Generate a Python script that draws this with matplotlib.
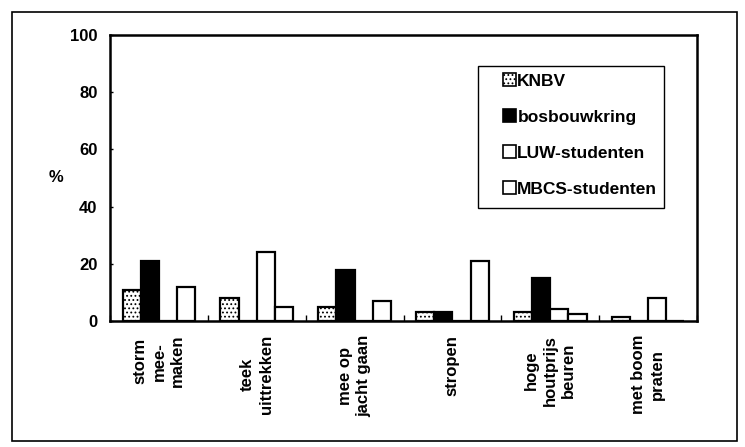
import matplotlib.pyplot as plt
from matplotlib.patches import Rectangle
import numpy as np

plt.rcParams['font.family'] = ['Liberation Sans', 'DejaVu Sans']
plt.rcParams['hatch.color'] = '#888888'
plt.rcParams['hatch.linewidth'] = 0.8

# ================== DATA ==================

categories = ["storm\nmee-\nmaken", "teek\nuittrekken", "mee op\njacht gaan",
              "stropen", "hoge\nhoutprijs\nbeuren", "met boom\npraten"]
series_names = ["KNBV", "bosbouwkring", "LUW-studenten", "MBCS-studenten"]
knbv = [11, 8, 5, 3.3, 3.3, 1.5]
bosbouwkring = [21, 0, 18, 3.3, 15, 0]
luw = [0, 24, 0, 0, 4.3, 8]
mbcs = [12, 5, 7, 21, 2.5, 0]
y_ticks = [0, 20, 40, 60, 80, 100]

# ================== PLOT ==================

fig = plt.figure(figsize=(7.45, 4.47), dpi=100)
ax = fig.add_axes([110 / 745, 1 - 321 / 447, 587 / 745, 286 / 447])

x = np.arange(len(categories))
w = 0.186
styles = [
    dict(facecolor="white", hatch="...."),
    dict(facecolor="black"),
    dict(facecolor="white"),
    dict(facecolor="white"),
]
data = [knbv, bosbouwkring, luw, mbcs]

for i, (vals, st, name) in enumerate(zip(data, styles, series_names)):
    ax.bar(x + (i - 1.5) * w, vals, width=w, edgecolor="black",
           linewidth=1.6, label=name, **st)

ax.set_xlim(-0.5, len(categories) - 0.5)
ax.set_ylim(0, 100)
ax.set_yticks(y_ticks)
ax.set_yticklabels([str(t) for t in y_ticks], fontsize=12, fontweight="bold")
ax.tick_params(axis="y", direction="in", length=2, width=1, pad=9)

ax.set_xticks(x)
ax.set_xticklabels(categories, rotation=90, fontsize=12, fontweight="bold",
                   va="top", ha="center", multialignment="center",
                   linespacing=1.3)
ax.tick_params(axis="x", length=0, pad=10)
ax.set_xticks(np.arange(len(categories) + 1) - 0.5, minor=True)
ax.tick_params(axis="x", which="minor", direction="in", length=4, width=1)

ax.set_ylabel("%", rotation=0, fontsize=12, fontweight="bold", labelpad=10,
              va="center")

for side in ax.spines.values():
    side.set_linewidth(1.8)

# legend entries without frame, box drawn separately
leg = fig.legend(loc="upper left", bbox_to_anchor=(500 / 745, 1 - 70 / 447),
                 frameon=False, prop=dict(size=12.5, weight="bold"),
                 handlelength=0.7, handleheight=0.7, handletextpad=0.1,
                 labelspacing=1.2, borderpad=0.2, borderaxespad=0)
for h in leg.legend_handles:
    h.set_linewidth(1.2)

fig.patches.append(Rectangle((478 / 745, 1 - 208 / 447), 186 / 745, 142 / 447,
                             transform=fig.transFigure, fill=False,
                             edgecolor="black", linewidth=1.0))

# outer border
fig.patches.append(Rectangle((12 / 745, 1 - 441 / 447), 725 / 745, 429 / 447,
                             transform=fig.transFigure, fill=False,
                             edgecolor="black", linewidth=1.2))

plt.savefig("out.png", dpi=100)
